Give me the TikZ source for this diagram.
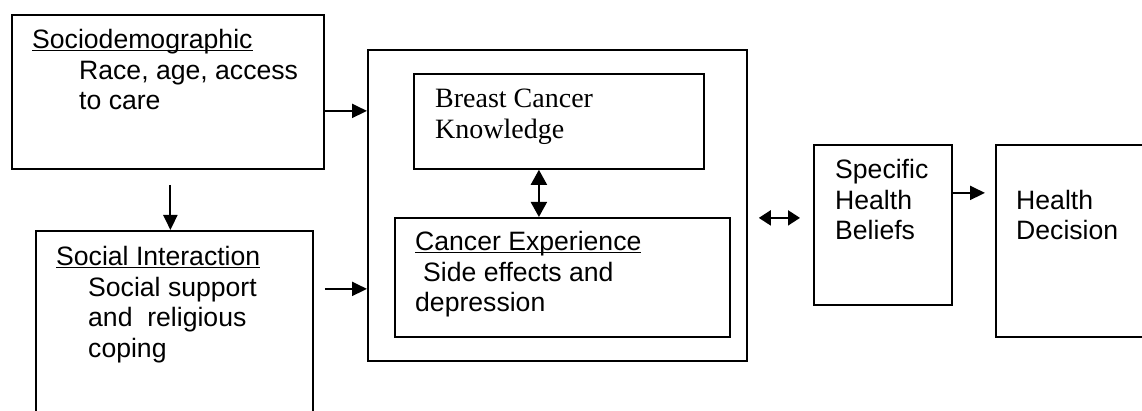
\documentclass[tikz,border=0pt]{standalone}
\usepackage{fontspec}
\setmainfont{Liberation Sans}
\newfontfamily\bcfont{Liberation Serif}
\usetikzlibrary{positioning,calc,arrows.meta}
\newcommand{\ulword}[1]{\setbox0=\hbox{#1}\rlap{\rule[-2.5pt]{\wd0}{1.5pt}}\box0}

\begin{document}
\begin{tikzpicture}[
    x=1pt, y=-1pt,
    box/.style={draw,line width=1.8pt,rectangle,inner sep=0pt,anchor=north west},
    txt/.style={anchor=base west,align=left,inner sep=0pt,font=\fontsize{26.6}{30.5}\selectfont},
    arr/.style={-{Triangle[length=15pt,width=14pt]},line width=2pt},
    dbl/.style={{Triangle[length=12pt,width=15pt]}-{Triangle[length=12pt,width=15pt]},line width=2pt},
    dblv/.style={{Triangle[length=15pt,width=16pt]}-{Triangle[length=15pt,width=16pt]},line width=2pt}
    ]

    \useasboundingbox (0,0) rectangle (1142,411);
    \clip (0,0) rectangle (1142,411);

    % boxes
    \node (socio) [box,minimum width=312pt,minimum height=154pt] at (11,14) {};
    \node (social) [box,minimum width=277pt,minimum height=220pt] at (35,230) {};
    \node (outer) [box,minimum width=379pt,minimum height=311pt] at (367,49) {};
    \node (bck) [box,minimum width=290pt,minimum height=95pt] at (413,73) {};
    \node (cexp) [box,minimum width=335pt,minimum height=119pt] at (394,217) {};
    \node (shb) [box,minimum width=138pt,minimum height=160pt] at (813,144) {};
    \node (hd) [box,minimum width=170pt,minimum height=192pt] at (995,144) {};

    % texts (placed at the baseline of their last line)
    \node (sociotxt) [txt] at (32,110) {\ulword{Sociodemographic}\\\hspace*{47pt}Race, age, access\\\hspace*{47pt}to care};
    \node (socialtxt) [txt] at (56,357) {\ulword{Social Interaction}\\\hspace*{32pt}Social support\\\hspace*{32pt}and~ religious\\\hspace*{32pt}coping};
    \node (bcktxt) [txt,font=\bcfont\fontsize{28}{31}\selectfont] at (435,139) {Breast Cancer\\Knowledge};
    \node (cexptxt) [txt] at (415,312) {\ulword{Cancer Experience}\\\hspace*{8pt}Side effects and\\depression};
    \node (shbtxt) [txt] at (835,240) {Specific\\Health\\Beliefs};
    \node (hdtxt) [txt] at (1016,240) {Health\\Decision};

    % arrows
    \draw[arr] ($(socio.south)+(2.5,15)$) -- ($(socio.south |- social.north)+(2.5,0)$);
    \draw[arr] ($(socio.east)+(0,19)$) -- ($(socio.east -| outer.west)+(0,19)$);
    \draw[arr] ($(social.east)+(11,-52)$) -- ($(social.east -| outer.west)+(0,-52)$);
    \draw[dblv] ($(bck.south)+(-20,0)$) -- ($(bck.south |- cexp.north)+(-20,0)$);
    \draw[dbl] ($(outer.east)+(11,12.5)$) -- ($(outer.east -| shb.west)+(-13,12.5)$);
    \draw[arr] ($(shb.east)+(0,-32)$) -- ($(shb.east -| hd.west)+(-10,-32)$);

\end{tikzpicture}
\end{document}
